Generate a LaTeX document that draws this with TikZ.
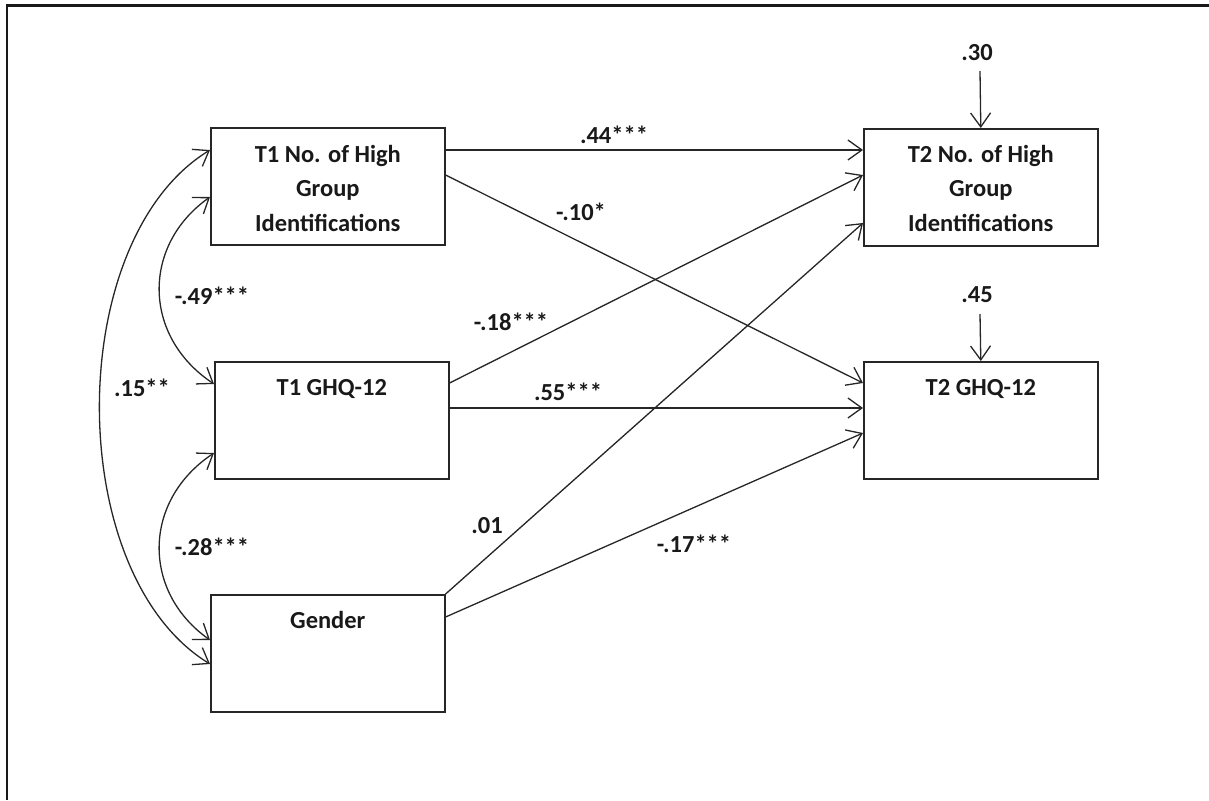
\documentclass[tikz,border=0pt]{standalone}
\usepackage{fontspec}
\setmainfont{Carlito}
\usetikzlibrary{arrows.meta,calc}
\begin{document}
\begin{tikzpicture}[x=1pt,y=-1pt,
  box/.style={draw=black!85, line width=1.6pt, minimum width=234pt, minimum height=117pt, inner sep=0pt, anchor=north west},
  txt/.style={anchor=base, inner sep=0pt, font=\fontsize{24.5}{34.5}\selectfont\bfseries, text=black!90},
  lab/.style={anchor=base, inner sep=0pt, font=\fontsize{24.5}{29}\selectfont\bfseries, text=black!90},
  tipx/.tip={Straight Barb[length=14pt,width=20pt,line width=1.3pt]},
  arr/.style={draw=black!85, line width=1.3pt, -tipx},
  darr/.style={draw=black!85, line width=1.3pt, tipx-tipx},
]
\useasboundingbox (0,0) rectangle (1209,800);
\draw[line width=2.5pt, black!90] (7,800) -- (7,5.5) -- (1209,5.5);

% boxes
\node[box] (t1a) at (210,127) {};
\node[box] (t1g) at (214,361) {};
\node[box] (gen) at (210,594) {};
\node[box] (t2a) at (863,128) {};
\node[box] (t2g) at (863,361) {};

% box texts
\node[txt] (t1a-t) at ($(t1a.north)+(0,35)$) {\parbox[t]{230pt}{\centering T1 No. of High\\Group\\Identifications}};
\node[txt] (t1g-t) at ($(t1g.north)+(0,34)$) {T1 GHQ-12};
\node[txt] (gen-t) at ($(gen.north)+(0,34)$) {Gender};
\node[txt] (t2a-t) at ($(t2a.north)+(0,34)$) {\parbox[t]{230pt}{\centering T2 No. of High\\Group\\Identifications}};
\node[txt] (t2g-t) at ($(t2g.north)+(0,34)$) {T2 GHQ-12};

% paths
\draw[arr] ($(t1a.north east)+(0,23)$) -- ($(t2a.north west)+(0,22)$);
\draw[arr] ($(t1a.north east)+(0,48)$) -- ($(t2g.north west)+(0,22)$);
\draw[arr] ($(t1g.north east)+(0,22)$) -- ($(t2a.north west)+(0,47)$);
\draw[arr] ($(t1g.north east)+(0,47)$) -- ($(t2g.north west)+(0,47)$);
\draw[arr] ($(gen.north east)+(0,0)$) -- ($(t2a.north west)+(0,95)$);
\draw[arr] ($(gen.north east)+(0,23)$) -- ($(t2g.north west)+(0,72)$);

\node[lab] (l44) at (614,143) {.44***};
\node[lab] (l10) at (581,220) {-.10*};
\node[lab] (l18) at (511,330) {-.18***};
\node[lab] (l55) at (568,400) {.55***};
\node[lab] (l01) at (487,533) {.01};
\node[lab] (l17) at (694,552) {-.17***};

% residuals
\node[lab] (r30) at (977,60) {.30};
\node[lab] (r45) at (977,302) {.45};
\coordinate (r30s) at (980,71);
\coordinate (r45s) at (980,314);
\draw[arr] (r30s) -- (t2a.north);
\draw[arr] (r45s) -- (t2g.north);

% correlations
\draw[darr] ($(t1a.north west)+(0,70)$) .. controls (142,245) and (142,336) .. ($(t1g.north west)+(0,23)$);
\draw[darr] ($(t1g.north west)+(0,92)$) .. controls (142,501) and (142,592) .. ($(gen.north west)+(0,46)$);
\draw[darr] ($(t1a.north west)+(0,23)$) .. controls (63,240) and (63,574) .. ($(gen.north west)+(0,70)$);

\node[lab] (l49) at (212,304) {-.49***};
\node[lab] (l28) at (212,555) {-.28***};
\node[lab] (l15) at (142,396) {.15**};
\end{tikzpicture}
\end{document}
